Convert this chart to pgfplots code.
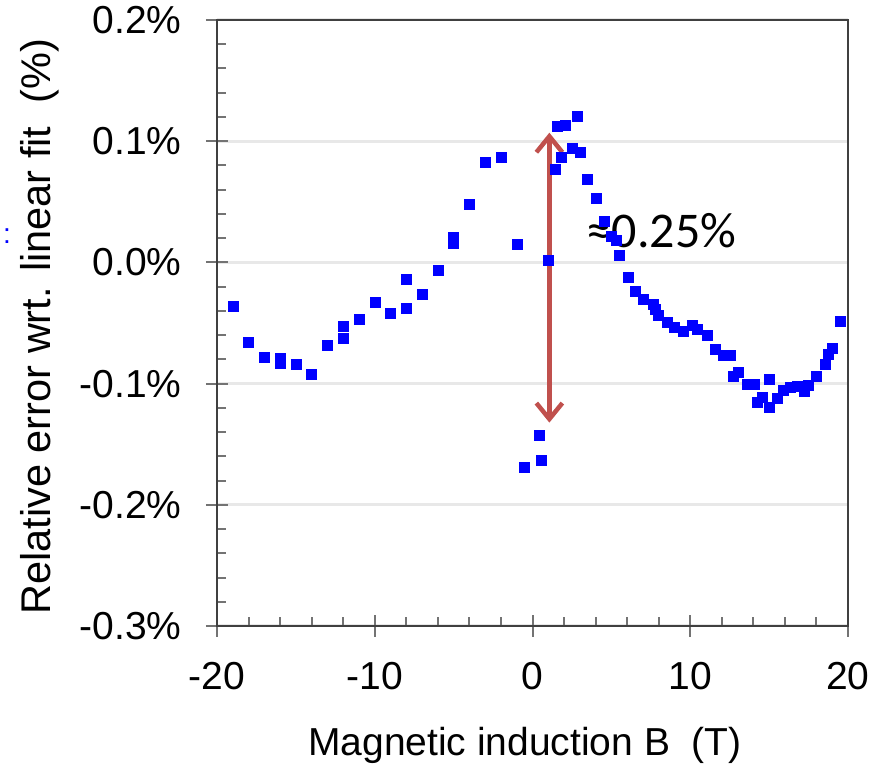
\documentclass[border=0pt]{standalone}
\usepackage{pgfplots}
\pgfplotsset{compat=1.18}
\usepackage{fontspec}
\setmainfont{Liberation Sans}
\newfontfamily\calibri{Carlito}
\usetikzlibrary{arrows.meta}
\definecolor{arrowred}{RGB}{192,80,77}
\definecolor{gridgray}{RGB}{232,232,232}
\begin{document}
\begin{tikzpicture}[x=1pt,y=1pt]
\useasboundingbox (0,0) rectangle (873,768);
\begin{axis}[
  at={(217pt,142pt)}, anchor=south west,
  scale only axis, width=631pt, height=606pt,
  xmin=-20, xmax=20, ymin=-0.3, ymax=0.2,
  axis lines=box,
  xtick={-20,-10,0,10,20}, xticklabels={-20,-10,0,10,20},
  ytick={-0.3,-0.2,-0.1,0,0.1,0.2},
  yticklabels={-0.3\%,-0.2\%,-0.1\%,0.0\%,0.1\%,0.2\%},
  minor x tick num=4, minor y tick num=4,
  xtick pos=left, ytick pos=left,
  tick align=center,
  major tick length=22pt, minor tick length=9pt,
  every minor x tick/.append style={yshift=4.5pt},
  every minor y tick/.append style={xshift=4.5pt},
  major tick style={line width=2pt, draw=black!55},
  minor tick style={line width=2pt, draw=black!55},
  axis line style={line width=2pt, draw=black!75},
  ymajorgrids, grid style={line width=3pt, draw=gridgray},
  ticklabel style={font=\fontsize{39}{42}\selectfont},
  yticklabel style={xshift=-21pt},
  xticklabel style={yshift=-22pt},
  xlabel={Magnetic induction B\ \ (T)},
  ylabel={Relative error wrt. linear fit\ \ (\%)},
  xlabel style={font=\fontsize{39}{42}\selectfont, at={(axis description cs:0.488,-0.2129)}, anchor=base},
  ylabel style={font=\fontsize{41.5}{44}\selectfont, at={(axis description cs:-0.2805,0.494)}, anchor=center},
  clip=false,
]
\addplot[only marks, mark=square*, mark size=5pt, color=blue] coordinates {
(-19,-0.0362) (-18,-0.0655) (-17,-0.0782) (-16,-0.079) (-16,-0.083)
(-15,-0.0836) (-14,-0.0924) (-13,-0.0686) (-12,-0.0628) (-12,-0.0529)
(-11,-0.0472) (-10,-0.0332) (-9,-0.0416) (-8,-0.0375) (-8,-0.0137)
(-7,-0.0263) (-6,-0.0068) (-5,0.016) (-5,0.021) (-4,0.0477)
(-3,0.0823) (-2,0.087) (-1,0.0154)
(-0.52,-0.169) (0.56,-0.163) (0.43,-0.1426) (1.0,0.0014)
(1.43,0.077) (1.54,0.112) (2.08,0.1136) (2.84,0.1207)
(1.85,0.0868) (2.49,0.0941) (3.03,0.0909) (3.48,0.0686)
(4.01,0.0532) (4.56,0.0337) (4.98,0.0214) (5.3,0.0187) (5.49,0.0061)
(6.04,-0.0126) (6.48,-0.0235) (7.03,-0.0307) (7.67,-0.0348) (7.77,-0.039)
(7.98,-0.0433) (8.52,-0.049) (8.98,-0.0537) (9.53,-0.057) (10.1,-0.0515)
(10.42,-0.0554) (11.05,-0.0598) (11.58,-0.0713) (12.11,-0.0768) (12.53,-0.0768)
(12.74,-0.0943) (13.02,-0.0905) (13.59,-0.1007) (14.05,-0.1007) (14.26,-0.1157)
(14.54,-0.1116) (15.03,-0.096) (15.03,-0.1198) (15.5,-0.1124) (15.88,-0.1053)
(16.34,-0.1026) (16.76,-0.102) (17.23,-0.1064) (17.5,-0.1015) (18.0,-0.0938)
(18.56,-0.0842) (18.77,-0.076) (18.98,-0.0705) (19.51,-0.0486)
};
\draw[arrowred, line width=5pt, {Straight Barb[length=16pt,width=26pt,line width=4.5pt]}-{Straight Barb[length=16pt,width=26pt,line width=4.5pt]}]
  (axis cs:1.07,0.107) -- (axis cs:1.07,-0.1322);
\node[anchor=base west, inner sep=0pt, font=\calibri\fontsize{50}{54}\selectfont] at (axis cs:3.44,0.0119) {≈0.25\%};
\end{axis}
\node[text=blue, font=\fontsize{28}{30}\selectfont, inner sep=0pt] at (7,532) {:};
\end{tikzpicture}
\end{document}
